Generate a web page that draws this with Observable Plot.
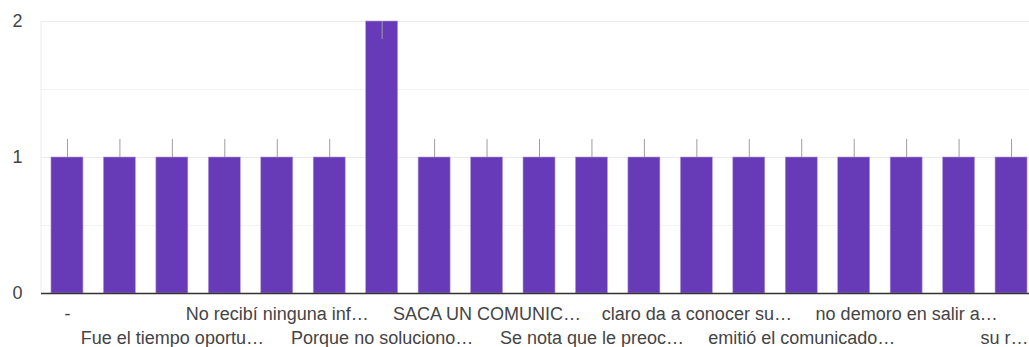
<!DOCTYPE html>
<html><head><meta charset="utf-8">
<script src="https://cdn.jsdelivr.net/npm/d3@7"></script>
<script src="https://cdn.jsdelivr.net/npm/@observablehq/plot@0.6"></script>
<style>html,body{margin:0;padding:0;background:#fff;overflow:hidden;width:1029px;height:347px}</style>
</head><body><div id="chart"></div>
<script>
// Category tick labels as displayed (odd categories have no visible label)
const labels = [
  "-", "", "Fue el tiempo oportu…", "", "No recibí ninguna inf…", "",
  "Porque no soluciono…", "", "SACA UN COMUNIC…", "", "Se nota que le preoc…", "",
  "claro da a conocer su…", "", "emitió el comunicado…", "", "no demoro en salir a…", "",
  "su r…"
];
// Counts per category
const values = [1, 1, 1, 1, 1, 1, 2, 1, 1, 1, 1, 1, 1, 1, 1, 1, 1, 1, 1];
const yTicks = [0, 1, 2];
const majorGrid = [1, 2];
const minorGrid = [0.5, 1.5];

const data = values.map((v, i) => ({i, label: labels[i], value: v}));
const yMax = d3.max(yTicks);
const lastIndex = values.length - 1;

const leftLine = (index, scales, channels, dimensions) => {
  const {marginLeft, marginTop, marginBottom, height} = dimensions;
  return d3.create("svg:line")
    .attr("x1", marginLeft).attr("x2", marginLeft)
    .attr("y1", marginTop).attr("y2", height - marginBottom)
    .attr("stroke", "#ececec").node();
};

const font = "'Liberation Sans', Arial, sans-serif";
const chart = Plot.plot({
  width: 1037, height: 347,
  marginLeft: 41, marginRight: 0, marginTop: 21, marginBottom: 54,
  style: {fontFamily: font, fontSize: "18px", color: "#444", background: "#fff", overflow: "visible", maxWidth: "none"},
  x: {type: "band", domain: d3.range(values.length), paddingInner: 0.39, paddingOuter: 0.19, round: false},
  y: {domain: [0, yMax]},
  marks: [
    Plot.ruleY(minorGrid, {stroke: "#f3f3f3"}),
    Plot.ruleY(majorGrid, {stroke: "#ebebeb"}),
    leftLine,
    Plot.barY(data, {x: "i", y: "value", fill: "#673ab7", stroke: "#b39ddb", strokeWidth: 0.6}),
    Plot.ruleX(data.filter(d => d.value < yMax), {x: "i", y1: "value", y2: "value", insetTop: -18, stroke: "#9e9e9e", strokeWidth: 1}),
    Plot.ruleX(data.filter(d => d.value >= yMax), {x: "i", y1: "value", y2: "value", insetBottom: -18, stroke: "#9e9e9e", strokeWidth: 1}),
    Plot.ruleY([0], {stroke: "#333", strokeWidth: 1.3}),
    Plot.axisY({ticks: yTicks, tickSize: 0, tickPadding: 19, tickFormat: d => String(d), label: null, fontSize: 18}),
    Plot.axisX({tickSize: 0, tickPadding: 14, tickFormat: i => i % 4 === 0 ? labels[i] : "", label: null, fontSize: 18}),
    Plot.axisX({tickSize: 0, tickPadding: 38, tickFormat: i => (i % 4 === 2 && i !== lastIndex) ? labels[i] : "", label: null, fontSize: 18}),
    Plot.text(data.filter(d => d.i === lastIndex), {x: "i", y: () => 0, text: "label", lineAnchor: "top", textAnchor: "end", dx: 17, dy: 38, fill: "#444", fontSize: 18})
  ]
});
document.getElementById("chart").append(chart);
</script>
</body></html>
